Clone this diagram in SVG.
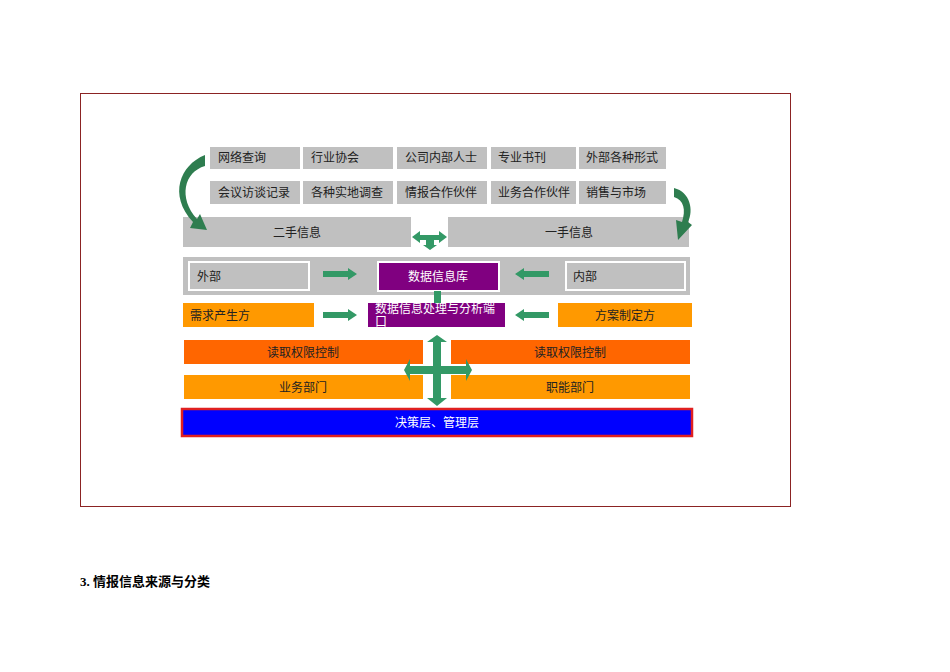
<svg xmlns="http://www.w3.org/2000/svg" width="950" height="672" viewBox="0 0 950 672">
<style>
text{font-family:"Liberation Serif","Noto Sans CJK SC",serif;font-size:12px;fill:#222}
.g{fill:#C0C0C0}
.w text,.w{fill:#fff}
.a{fill:#339966}
</style>
<rect width="950" height="672" fill="#fff"/>
<rect x="80.5" y="93.5" width="710" height="413" fill="none" stroke="#8B2323"/>
<g id="sources">
<rect class="g" x="210" y="147" width="90" height="22"/><text x="218" y="162">网络查询</text>
<rect class="g" x="303" y="147" width="90" height="22"/><text x="311" y="162">行业协会</text>
<rect class="g" x="397" y="147" width="90" height="22"/><text x="405" y="162">公司内部人士</text>
<rect class="g" x="491" y="147" width="85" height="22"/><text x="498" y="162">专业书刊</text>
<rect class="g" x="579" y="147" width="87" height="22"/><text x="586" y="162">外部各种形式</text>
<rect class="g" x="210" y="181" width="90" height="23"/><text x="218" y="197">会议访谈记录</text>
<rect class="g" x="303" y="181" width="90" height="23"/><text x="311" y="197">各种实地调查</text>
<rect class="g" x="397" y="181" width="90" height="23"/><text x="405" y="197">情报合作伙伴</text>
<rect class="g" x="491" y="181" width="85" height="23"/><text x="498" y="197">业务合作伙伴</text>
<rect class="g" x="579" y="181" width="87" height="23"/><text x="586" y="197">销售与市场</text>
</g>
<g id="second"><rect class="g" x="183" y="217" width="228" height="30"/><text x="297" y="237" text-anchor="middle">二手信息</text></g>
<g id="first"><rect class="g" x="448" y="217" width="241" height="30"/><text x="569" y="237" text-anchor="middle">一手信息</text></g>
<g id="band">
<rect class="g" x="183" y="257" width="507" height="38"/>
<rect x="189" y="262" width="120" height="28" fill="#C0C0C0" stroke="#fff" stroke-width="2"/><text x="197" y="281">外部</text>
<rect x="378" y="262" width="121" height="29" fill="#800080" stroke="#fff" stroke-width="2"/><text x="438" y="281" text-anchor="middle" fill="#fff" style="fill:#fff">数据信息库</text>
<rect x="566" y="262" width="119" height="28" fill="#C0C0C0" stroke="#fff" stroke-width="2"/><text x="573" y="281">内部</text>
</g>
<g id="row3">
<rect x="183" y="303" width="131" height="24" fill="#FF9900"/><text x="190" y="320">需求产生方</text>
<rect x="368" y="303" width="137" height="24" fill="#800080"/><text x="375" y="313" style="fill:#fff">数据信息处理与分析端</text><text x="375" y="326" style="fill:#fff">口</text>
<rect x="558" y="303" width="134" height="24" fill="#FF9900"/><text x="625" y="320" text-anchor="middle">方案制定方</text>
</g>
<g id="row4">
<rect x="184" y="340" width="239" height="24" fill="#FF6600"/><text x="303" y="357" text-anchor="middle">读取权限控制</text>
<rect x="451" y="340" width="239" height="24" fill="#FF6600"/><text x="570" y="357" text-anchor="middle">读取权限控制</text>
<rect x="184" y="375" width="239" height="24" fill="#FF9900"/><text x="303" y="392" text-anchor="middle">业务部门</text>
<rect x="451" y="375" width="239" height="24" fill="#FF9900"/><text x="570" y="392" text-anchor="middle">职能部门</text>
</g>
<g id="top"><rect x="182" y="409" width="510" height="27" fill="#0000FF" stroke="#E02020" stroke-width="2.5"/><text x="437" y="427" text-anchor="middle" style="fill:#fff">决策层、管理层</text></g>
<g id="connectors">
<path d="M205,155 C180,165 168,195 193,222 L190,228 L207,230 L200,214 L197,219 C178,198 184,172 205,166 Z" fill="#2E7D4F"/>
<path d="M674,188 C690,192 694,210 688,222 L692,225 L678,240 L676,220 L682,222 C686,210 684,200 674,197 Z" fill="#2E7D4F"/>
<path class="a" d="M412,237 L420,231 L420,235 L439,235 L439,231 L447,237 L439,243 L439,240 L434,240 L434,245 L437,245 L430,250 L423,245 L426,245 L426,240 L420,240 L420,243 Z"/>
<rect class="a" x="434" y="291" width="7" height="12"/>
<path class="a" d="M323,271 L348,271 L348,268 L357,274 L348,280 L348,277 L323,277 Z"/>
<path class="a" d="M323,312 L348,312 L348,309 L357,315 L348,321 L348,318 L323,318 Z"/>
<path class="a" d="M549,271 L524,271 L524,268 L515,274 L524,280 L524,277 L549,277 Z"/>
<path class="a" d="M549,312 L524,312 L524,309 L515,315 L524,321 L524,318 L549,318 Z"/>
<path class="a" d="M437,335 L447,342 L441,342 L441,366 L466,366 L466,359 L472,370 L466,381 L466,374 L441,374 L441,398 L447,398 L437,406 L427,398 L433,398 L433,374 L410,374 L410,381 L404,370 L410,359 L410,366 L433,366 L433,342 L427,342 Z"/>
</g>
<text x="80" y="586" style="font-weight:bold;font-size:13px;fill:#000">3. 情报信息来源与分类</text>
</svg>
